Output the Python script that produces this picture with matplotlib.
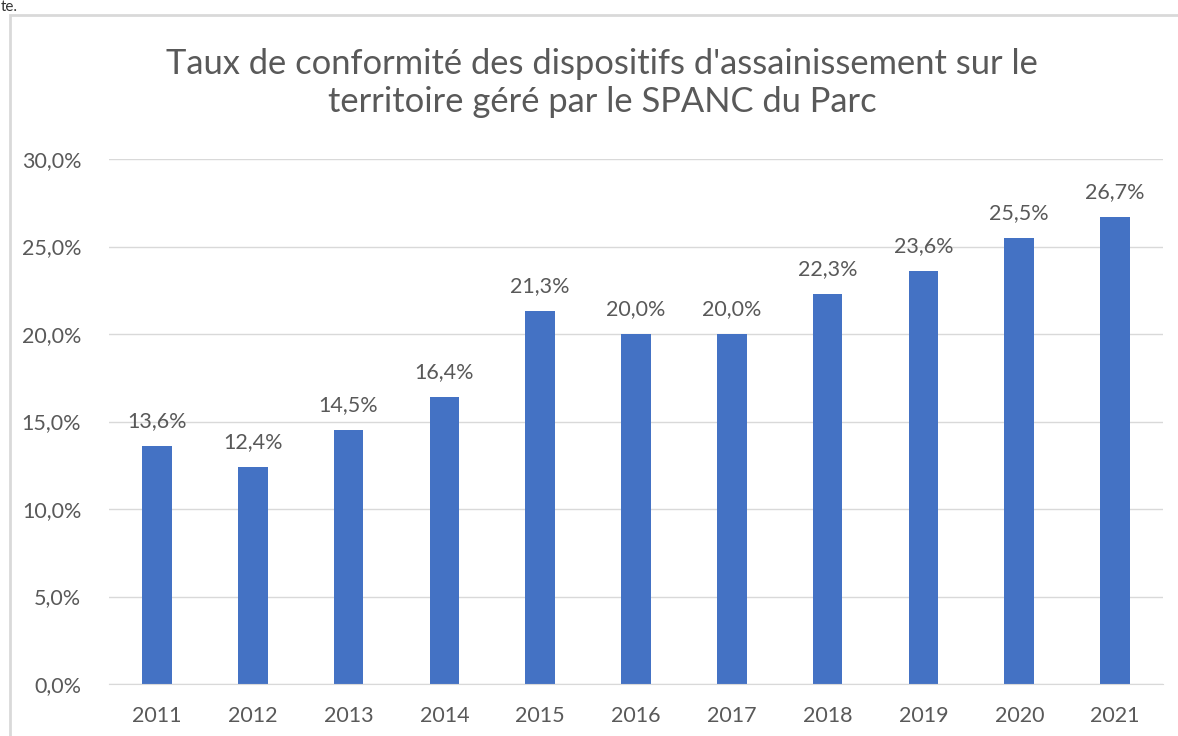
import matplotlib.pyplot as plt
import numpy as np
from matplotlib.patches import Rectangle
from matplotlib.ticker import FuncFormatter

# data
years = ['2011', '2012', '2013', '2014', '2015', '2016', '2017', '2018', '2019', '2020', '2021']
rates = [13.6, 12.4, 14.5, 16.4, 21.3, 20.0, 20.0, 22.3, 23.6, 25.5, 26.7]

title = "Taux de conformité des dispositifs d'assainissement sur le\nterritoire géré par le SPANC du Parc"

plt.rcParams['font.family'] = ['Lato', 'DejaVu Sans']
text_col = '#595959'

fig = plt.figure(figsize=(11.78, 7.36), dpi=100)

# chart frame (cut off at right and bottom like the screenshot)
fig.patches.append(Rectangle((10 / 1178, -0.1), 1.2, 1 - 15 / 736 + 0.1,
                             transform=fig.transFigure, fill=False,
                             ec='#D9D9D9', lw=2))
fig.text(0.001, 1.0, 'te.', fontsize=11, color='#333333', va='top')

ax = fig.add_axes([109 / 1178, 52 / 736, 1054 / 1178, 525 / 736])
x = np.arange(len(years))
bars = ax.bar(x, rates, width=0.31, color='#4472C4', zorder=2)

for xi, v in zip(x, rates):
    ax.text(xi, v + 0.85, f'{v:.1f}%'.replace('.', ','), ha='center', va='bottom',
            fontsize=15.5, color=text_col)

ax.set_ylim(0, 30)
ax.set_xlim(-0.5, len(years) - 0.5)
ax.set_yticks(np.arange(0, 31, 5))
ax.yaxis.set_major_formatter(FuncFormatter(lambda v, p: f'{v:.1f}%'.replace('.', ',')))
ax.set_xticks(x)
ax.set_xticklabels(years)
ax.tick_params(axis='both', length=0, labelsize=15.5, labelcolor=text_col)
ax.tick_params(axis='y', pad=20)
ax.tick_params(axis='x', pad=16)
ax.grid(axis='y', color='#D9D9D9', lw=1, zorder=0)
for s in ['top', 'right', 'left']:
    ax.spines[s].set_visible(False)
ax.spines['bottom'].set_color('#D9D9D9')

fig.text(602 / 1178, 1 - 83 / 736, title, ha='center', va='center', fontsize=24.8,
         color=text_col, linespacing=1.25)

fig.savefig('out.png', dpi=100)
